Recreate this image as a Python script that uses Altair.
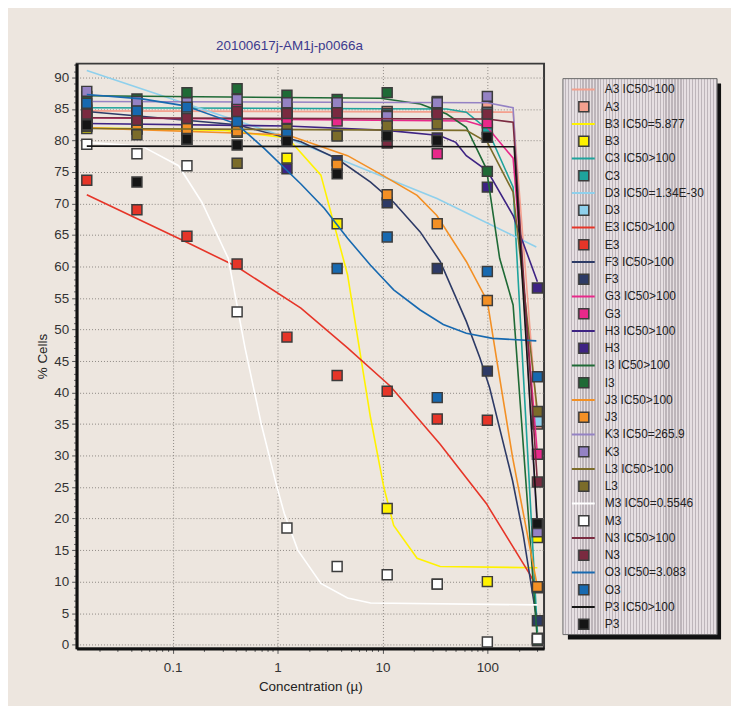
import altair as alt
import pandas as pd

FONT = "Liberation Sans"

# ---------------- data ----------------
series = ["A3", "B3", "C3", "D3", "E3", "F3", "G3", "H3",
          "I3", "J3", "K3", "L3", "M3", "N3", "O3", "P3"]
colors = ["#f4a08e", "#fff200", "#1ea39c", "#8fd0ec", "#e63528", "#2d3a66",
          "#e8288a", "#3e2383", "#1f6a36", "#f39025", "#9482c4", "#7b6c2a",
          "#ffffff", "#7a2a40", "#1769b0", "#151515"]
fit_labels = ["A3 IC50>100", "B3 IC50=5.877", "C3 IC50>100", "D3 IC50=1.34E-30",
              "E3 IC50>100", "F3 IC50>100", "G3 IC50>100", "H3 IC50>100",
              "I3 IC50>100", "J3 IC50>100", "K3 IC50=265.9", "L3 IC50>100",
              "M3 IC50=0.5546", "N3 IC50>100", "O3 IC50=3.083", "P3 IC50>100"]

conc = [0.0152, 0.0457, 0.137, 0.412, 1.23, 3.70, 11.1, 33.3, 100, 300]

points = {
    "A3": [84.8, 84.6, 84.9, 84.7, 84.5, 84.6, 84.6, 84.6, 85.3, 35.0],
    "B3": [81.9, 81.9, 81.6, 81.3, 77.2, 66.8, 21.6, 9.6, 10.0, 17.0],
    "C3": [85.2, 85.3, 85.2, 85.0, 85.2, 85.1, 84.3, 84.8, 81.8, 1.0],
    "D3": [84.0, 84.2, 84.0, 84.4, 84.0, 84.5, 84.0, 84.3, 84.5, 35.4],
    "E3": [73.7, 69.0, 64.8, 60.4, 48.8, 42.7, 40.2, 35.8, 35.6, 9.0],
    "F3": [84.0, 83.6, 82.7, 82.2, 80.5, 76.8, 70.1, 59.7, 43.4, 3.8],
    "G3": [83.0, 83.2, 83.4, 85.3, 83.5, 83.1, 83.5, 77.9, 82.8, 30.2],
    "H3": [82.8, 82.6, 82.3, 82.2, 75.5, 81.0, 81.3, 80.4, 72.6, 56.6],
    "I3": [87.0, 86.6, 87.6, 88.2, 87.2, 86.5, 87.6, 86.2, 75.1, 0.6],
    "J3": [82.2, 81.8, 81.9, 81.5, 80.4, 76.1, 71.4, 66.8, 54.6, 9.2],
    "K3": [87.8, 86.2, 86.0, 86.5, 86.0, 86.0, 83.8, 86.0, 87.0, 17.9],
    "L3": [82.3, 80.9, 80.2, 76.4, 81.8, 80.7, 82.3, 82.6, 80.5, 37.0],
    "M3": [79.4, 77.9, 76.0, 52.8, 18.5, 12.4, 11.1, 9.6, 0.4, 0.9],
    "N3": [84.2, 83.2, 83.5, 84.6, 84.3, 84.4, 79.6, 84.2, 84.2, 25.8],
    "O3": [85.9, 84.7, 85.3, 83.0, 81.0, 59.7, 64.7, 39.2, 59.2, 42.5],
    "P3": [82.5, 73.4, 80.2, 79.3, 79.9, 74.7, 80.7, 80.0, 80.5, 19.2],
}

# fitted curves: vertices (concentration, % cells)
curve_x = {
    "A3": [0.0152, 176, 300],
    "B3": [0.0152, 0.316, 1.25, 2.59, 4.65, 7.7, 10.3, 12.8, 21.4, 35.5, 300],
    "C3": [0.0152, 41, 63, 100, 176, 300],
    "D3": [0.0152, 1.08, 33.1, 293],
    "E3": [0.0152, 0.138, 0.407, 1.67, 4.65, 11.9, 35.5, 97.7, 251, 300],
    "F3": [0.0152, 0.41, 1.67, 3.7, 7.7, 12.8, 22.9, 35.5, 63, 85, 105, 174, 219, 296],
    "G3": [0.0152, 63, 100, 176, 300],
    "H3": [0.0152, 1.23, 11, 35, 50, 63, 100, 176, 300],
    "I3": [0.0152, 9.6, 23, 41, 63, 98, 131, 176, 300],
    "J3": [0.0152, 1.23, 4.65, 9.5, 21.4, 33, 63, 100, 122, 174, 300],
    "K3": [0.0152, 100, 176, 300],
    "L3": [0.0152, 63, 100, 176, 300],
    "M3": [0.0152, 0.051, 0.114, 0.19, 0.339, 0.49, 0.70, 0.97, 1.16, 1.56, 2.59, 4.65, 7.7, 300],
    "N3": [0.0152, 100, 176, 300],
    "O3": [0.0152, 0.051, 0.132, 0.41, 0.75, 1.67, 2.8, 4.65, 7.7, 12.8, 22.9, 38, 63, 112, 293],
    "P3": [0.0152, 180, 300],
}
curve_y = {
    "A3": [84.7, 84.5, 35.0],
    "B3": [82.0, 81.6, 80.4, 74.5, 58.7, 36.0, 25.0, 18.9, 13.7, 12.4, 12.2],
    "C3": [85.2, 85.0, 84.5, 81.8, 72.6, 2.0],
    "D3": [91.1, 80.8, 70.8, 63.1],
    "E3": [71.4, 63.8, 60.0, 53.4, 47.1, 41.0, 31.8, 22.4, 11.3, 9.0],
    "F3": [84.6, 82.5, 79.8, 77.1, 73.4, 70.2, 65.5, 60.8, 51.3, 45.5, 40.8, 26.0, 17.6, 3.9],
    "G3": [83.6, 83.1, 82.1, 77.2, 30.2],
    "H3": [82.7, 82.3, 81.6, 80.8, 79.7, 77.6, 75.2, 68.1, 57.6],
    "I3": [87.1, 86.7, 85.8, 84.2, 82.1, 75.5, 61.3, 53.9, 0.6],
    "J3": [82.0, 80.9, 77.6, 74.7, 71.3, 68.1, 60.8, 54.5, 45.5, 29.7, 9.2],
    "K3": [86.2, 86.0, 85.2, 17.9],
    "L3": [81.9, 81.6, 79.7, 71.8, 37.0],
    "M3": [79.7, 79.1, 76.0, 70.2, 61.3, 47.1, 35.0, 25.5, 20.8, 15.0, 9.7, 7.4, 6.6, 6.3],
    "N3": [83.6, 83.4, 82.9, 25.8],
    "O3": [87.3, 86.6, 85.5, 82.6, 78.7, 73.1, 69.2, 64.5, 60.2, 56.3, 53.1, 50.8, 49.4, 48.6, 48.2],
    "P3": [79.1, 79.0, 19.2],
}

# ---------------- tables ----------------
pts_df = pd.DataFrame([{"series": s, "conc": c, "value": v}
                       for s in series for c, v in zip(conc, points[s])])
curve_df = pd.DataFrame([{"series": s, "conc": c, "value": v}
                         for s in series for c, v in zip(curve_x[s], curve_y[s])])
leg_rows = []
for i, s in enumerate(series):
    leg_rows.append({"row": 2 * i, "kind": "line", "label": fit_labels[i], "series": s})
    leg_rows.append({"row": 2 * i + 1, "kind": "square", "label": s, "series": s})
leg_df = pd.DataFrame(leg_rows)

# ---------------- scales & axes ----------------
x_scale = alt.Scale(type="log", domain=[0.01216, 347], nice=False)
y_scale = alt.Scale(domain=[-0.6, 92.2], nice=False, zero=False)

x_ticks = [round(k * 10.0 ** e, 6) for e in range(-2, 3) for k in range(1, 10)]
x_ticks = [t for t in x_ticks if 0.0122 < t < 347]
y_ticks = list(range(0, 93))

is_major_x = "indexof([0.1,1,10,100], datum.value) >= 0"
is_major_y = "datum.value % 5 === 0"

x_axis = alt.Axis(
    values=x_ticks, format="~g",
    labelExpr=f"{is_major_x} ? datum.label : ''",
    title="Concentration (µ)",
    tickSize={"condition": {"test": is_major_x, "value": 5}, "value": 3},
    gridOpacity={"condition": {"test": is_major_x, "value": 1}, "value": 0},
    grid=True, gridColor="#8d8883", gridDash=[1, 2], gridWidth=1,
    domainColor="#111111", domainWidth=3, tickColor="#555555",
    labelFont=FONT, labelFontSize=13.5, labelColor="#333333", labelPadding=7,
    labelOverlap=False, labelFlush=False,
    titleFont=FONT, titleFontSize=13.5, titleFontWeight="normal",
    titleColor="#222222", titlePadding=6,
)
y_axis = alt.Axis(
    values=y_ticks,
    labelExpr=f"{is_major_y} ? datum.label : ''",
    title="% Cells",
    tickSize={"condition": {"test": is_major_y, "value": 5}, "value": 3},
    gridOpacity={"condition": {"test": is_major_y, "value": 1}, "value": 0},
    grid=True, gridColor="#8d8883", gridDash=[1, 2], gridWidth=1,
    domainColor="#111111", domainWidth=3, tickColor="#555555",
    labelFont=FONT, labelFontSize=13.5, labelColor="#333333", labelPadding=3,
    labelOverlap=False, labelFlush=False,
    titleFont=FONT, titleFontSize=13.5, titleFontWeight="normal",
    titleColor="#222222", titlePadding=4,
)

X = alt.X("conc:Q", scale=x_scale, axis=x_axis)
Y = alt.Y("value:Q", scale=y_scale, axis=y_axis)

# ---------------- main plot: line then squares, series by series ----------------
layers = []
for s, c in zip(series, colors):
    line = alt.Chart(curve_df).transform_filter(alt.datum.series == s).mark_line(
        color=c, strokeWidth=1.6
    ).encode(x=X, y=Y, order="conc:Q")
    sq = alt.Chart(pts_df).transform_filter(alt.datum.series == s).mark_square(
        size=100, filled=True, fill=c, stroke="#3c3c3c", strokeWidth=1.5, opacity=1
    ).encode(x=X, y=Y)
    layers += [line, sq]

main = alt.layer(*layers).properties(
    width=470, height=588,
    title=alt.Title("20100617j-AM1j-p0066a", font=FONT, fontSize=13.5,
                    fontWeight="normal", color="#3c3a8e", anchor="middle",
                    frame="group", dx=-21, offset=5),
    view=alt.ViewBackground(stroke="#3a3a3a", strokeWidth=2),
)

# ---------------- legend panel ----------------
y_leg = alt.Scale(domain=[-1.5, 32.4], reverse=True)
color_scale = alt.Scale(domain=series, range=colors)

n_stripes = 52
stops = []
for k in range(n_stripes):
    a, m, b = k / n_stripes, (k + 0.6) / n_stripes, (k + 1) / n_stripes
    stops += [alt.GradientStop(color="#e6dfe2", offset=a),
              alt.GradientStop(color="#e6dfe2", offset=m),
              alt.GradientStop(color="#bdb5ba", offset=m),
              alt.GradientStop(color="#bdb5ba", offset=b)]
stripes = alt.Gradient(gradient="linear", stops=stops, x1=0, x2=1, y1=0, y2=0)

one = pd.DataFrame({"k": [0]})
box_y = alt.YDatum(-0.63, type="quantitative", scale=y_leg, axis=None)
box_y2 = alt.Y2Datum(31.6)

shadow = alt.Chart(one).mark_rect(fill="#111111", yOffset=5, y2Offset=5).encode(
    x=alt.value(5), x2=alt.value(159), y=box_y, y2=box_y2)
box = alt.Chart(one).mark_rect(fill=stripes, stroke="#6a6a6a", strokeWidth=1).encode(
    x=alt.value(0), x2=alt.value(155), y=box_y, y2=box_y2)
leg_lines = alt.Chart(leg_df).transform_filter(alt.datum.kind == "line").mark_rule(
    strokeWidth=2).encode(
    x=alt.value(9), x2=alt.value(32),
    y=alt.Y("row:Q", scale=y_leg, axis=None),
    color=alt.Color("series:N", scale=color_scale, legend=None))
leg_sq = alt.Chart(leg_df).transform_filter(alt.datum.kind == "square").mark_square(
    size=100, filled=True, stroke="#3c3c3c", strokeWidth=1.5, opacity=1).encode(
    x=alt.value(21),
    y=alt.Y("row:Q", scale=y_leg, axis=None),
    fill=alt.Fill("series:N", scale=color_scale, legend=None))
leg_text = alt.Chart(leg_df).mark_text(
    align="left", baseline="middle", font=FONT, fontSize=12, color="#222222").encode(
    x=alt.value(42),
    y=alt.Y("row:Q", scale=y_leg, axis=None),
    text="label:N")

legend = alt.layer(shadow, box, leg_lines, leg_sq, leg_text).properties(
    width=160, height=588,
    view=alt.ViewBackground(stroke="transparent"),
)

chart = alt.hconcat(main, legend, spacing=19, bounds="flush").properties(
    padding={"left": 26, "top": 28, "right": 8, "bottom": 10},
).configure(
    background="#ede6df",
).configure_view(stroke="transparent")

chart.save("out.html", embed_options={"renderer": "svg", "actions": False})
